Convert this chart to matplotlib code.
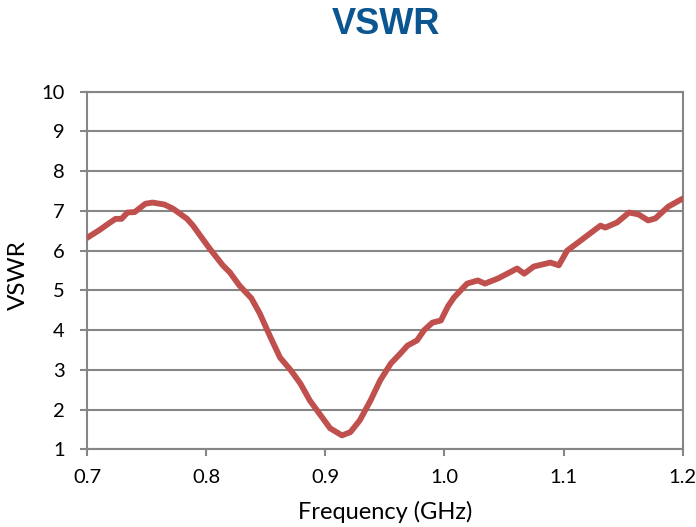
import numpy as np
import matplotlib
matplotlib.use('Agg')
import matplotlib.pyplot as plt
import matplotlib.ticker as ticker

# frequency (GHz) and VSWR
aFreq = [0.700, 0.711, 0.719, 0.724, 0.729, 0.734, 0.740, 0.749, 0.755, 0.765,
         0.772, 0.784, 0.789, 0.795, 0.803, 0.814, 0.820, 0.828, 0.838, 0.845,
         0.854, 0.862, 0.871, 0.879, 0.887, 0.896, 0.904, 0.914, 0.921, 0.929,
         0.938, 0.946, 0.955, 0.963, 0.969, 0.977, 0.983, 0.990, 0.997, 1.003,
         1.008, 1.019, 1.028, 1.034, 1.045, 1.061, 1.067, 1.075, 1.089, 1.096,
         1.103, 1.112, 1.123, 1.131, 1.135, 1.145, 1.155, 1.163, 1.171, 1.177,
         1.188, 1.200]
aVSWR = [6.32, 6.53, 6.70, 6.80, 6.80, 6.96, 6.97, 7.18, 7.21, 7.16,
         7.06, 6.80, 6.63, 6.38, 6.05, 5.63, 5.45, 5.12, 4.80, 4.42,
         3.82, 3.31, 2.99, 2.66, 2.23, 1.86, 1.53, 1.35, 1.43, 1.73,
         2.23, 2.73, 3.16, 3.41, 3.61, 3.74, 4.00, 4.19, 4.24, 4.60,
         4.82, 5.17, 5.25, 5.17, 5.30, 5.55, 5.42, 5.60, 5.70, 5.63,
         6.00, 6.20, 6.45, 6.63, 6.58, 6.71, 6.96, 6.91, 6.76, 6.81,
         7.11, 7.31]

aTick_x = [0.7, 0.8, 0.9, 1.0, 1.1, 1.2]
aTick_y = [1, 2, 3, 4, 5, 6, 7, 8, 9, 10]

sTitle = 'VSWR'
sLabel_x = 'Frequency (GHz)'
sLabel_y = 'VSWR'

sColor_line = '#C0504D'
sColor_grid = '#868686'
sColor_title = '#0B5590'

plt.rcParams['font.family'] = ['Lato', 'DejaVu Sans']

iDPI = 100
fig = plt.figure(figsize=(6.96, 5.27), dpi=iDPI)
ax = fig.add_axes([87 / 696, 1 - 449.3 / 527, (682.7 - 87) / 696, (449.3 - 91.7) / 527])

ax.plot(aFreq, aVSWR, color=sColor_line, linewidth=4.2, solid_capstyle='round',
        solid_joinstyle='round', zorder=3)

ax.set_xlim(0.7, 1.2)
ax.set_ylim(1, 10)
ax.xaxis.set_major_locator(ticker.FixedLocator(aTick_x))
ax.yaxis.set_major_locator(ticker.FixedLocator(aTick_y))
ax.xaxis.set_major_formatter(ticker.FormatStrFormatter('%.1f'))
ax.yaxis.set_major_formatter(ticker.FormatStrFormatter('%d'))

ax.grid(which='major', axis='y', color=sColor_grid, linewidth=1.5, zorder=1)
ax.set_axisbelow(True)
for sSide in ['left', 'bottom', 'right', 'top']:
    ax.spines[sSide].set_color(sColor_grid)
    ax.spines[sSide].set_linewidth(1.5)

ax.tick_params(axis='both', direction='out', length=5, width=1.5, color=sColor_grid,
               labelsize=14.5, labelcolor='black')
ax.tick_params(axis='y', pad=11)
ax.tick_params(axis='x', pad=9)

fig.text(386 / 696, 1 - 25 / 527, sTitle, ha='center', va='center', fontsize=26,
         fontweight='bold', color=sColor_title, family=['Liberation Sans', 'DejaVu Sans'])
fig.text(385 / 696, 1 - 519.3 / 527, sLabel_x, ha='center', va='baseline', fontsize=17)
fig.text(18.5 / 696, 1 - 275 / 527, sLabel_y, ha='center', va='center', rotation=90,
         fontsize=17.5)

plt.savefig('out.png', dpi=iDPI)
plt.close('all')
